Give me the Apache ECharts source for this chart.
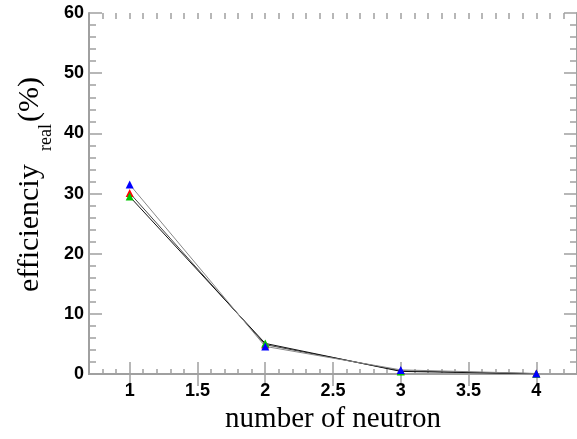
<!DOCTYPE html>
<html>
<head>
<meta charset="utf-8">
<script src="https://cdn.jsdelivr.net/npm/echarts@6/dist/echarts.min.js"></script>
<style>
  html, body { margin: 0; padding: 0; background: #fff; }
  #chart { width: 577px; height: 439px; }
</style>
</head>
<body>
<div id="chart"></div>
<script>
// data
var neutrons = [1, 2, 3, 4];
var redVals = [30.1, 4.9, 0.55, 0.08];
var greenVals = [29.5, 5.1, 0.45, 0.05];
var blueVals = [31.5, 4.6, 0.7, 0.1];
var xMajorTicks = [1, 1.5, 2, 2.5, 3, 3.5, 4];
var yMajorTicks = [0, 10, 20, 30, 40, 50, 60];

// minor ticks every 0.1 along x
var xMinorTicks = [];
for (var i = 7; i <= 43; i++) {
  xMinorTicks.push(Math.round(i) / 10);
}

function pairs(vals) {
  return neutrons.map(function (n, k) { return [n, vals[k]]; });
}

var axisGray = '#a0a0a0';
var chart = echarts.init(document.getElementById('chart'));

var gridBox = { left: 89, top: 13, right: 0, bottom: 64 };

var option = {
  animation: false,
  grid: [
    Object.assign({}, gridBox),
    Object.assign({}, gridBox)
  ],
  xAxis: [
    {
      gridIndex: 0, type: 'value', position: 'bottom', min: 0.7, max: 4.3,
      axisLine: { lineStyle: { color: axisGray, width: 2 } },
      axisTick: { inside: true, length: 12, customValues: xMajorTicks, lineStyle: { color: axisGray, width: 1.5 } },
      axisLabel: {
        customValues: xMajorTicks, margin: 8, color: '#000',
        fontFamily: 'Liberation Sans', fontWeight: 'bold', fontSize: 18
      },
      splitLine: { show: false },
      name: 'number of neutron', nameLocation: 'middle', nameGap: 26,
      nameTextStyle: { fontFamily: 'Liberation Serif', fontSize: 29, color: '#000' }
    },
    {
      gridIndex: 0, type: 'value', position: 'top', min: 0.7, max: 4.3,
      axisLine: { lineStyle: { color: axisGray, width: 2 } },
      axisTick: { inside: true, length: 12, customValues: xMajorTicks, lineStyle: { color: axisGray, width: 1.5 } },
      axisLabel: { show: false },
      splitLine: { show: false }
    },
    {
      gridIndex: 1, type: 'value', position: 'bottom', min: 0.7, max: 4.3,
      axisLine: { show: false },
      axisTick: { inside: true, length: 6, customValues: xMinorTicks, lineStyle: { color: axisGray, width: 1.5 } },
      axisLabel: { show: false },
      splitLine: { show: false }
    },
    {
      gridIndex: 1, type: 'value', position: 'top', min: 0.7, max: 4.3,
      axisLine: { show: false },
      axisTick: { inside: true, length: 6, customValues: xMinorTicks, lineStyle: { color: axisGray, width: 1.5 } },
      axisLabel: { show: false },
      splitLine: { show: false }
    }
  ],
  yAxis: [
    {
      gridIndex: 0, type: 'value', position: 'left', min: 0, max: 60, interval: 10,
      axisLine: { show: true, lineStyle: { color: axisGray, width: 2 } },
      axisTick: { show: true, inside: true, length: 13, lineStyle: { color: axisGray, width: 1.5 } },
      minorTick: { show: true, splitNumber: 5, length: 7, lineStyle: { color: axisGray, width: 1.5 } },
      axisLabel: {
        customValues: yMajorTicks, margin: 5, color: '#000',
        fontFamily: 'Liberation Sans', fontWeight: 'bold', fontSize: 18
      },
      splitLine: { show: false }
    },
    {
      gridIndex: 0, type: 'value', position: 'right', min: 0, max: 60, interval: 10,
      axisLine: { show: true, lineStyle: { color: axisGray, width: 2 } },
      axisTick: { show: true, inside: true, length: 13, lineStyle: { color: axisGray, width: 1.5 } },
      minorTick: { show: true, splitNumber: 5, length: 7, lineStyle: { color: axisGray, width: 1.5 } },
      axisLabel: { show: false },
      splitLine: { show: false }
    },
    { gridIndex: 1, type: 'value', min: 0, max: 60, show: false }
  ],
  graphic: [
    {
      type: 'text', x: 30, y: 292, rotation: Math.PI / 2,
      style: {
        text: 'efficienciy', fontFamily: 'Liberation Serif', fontSize: 30, fill: '#000',
        align: 'left', verticalAlign: 'middle'
      }
    },
    {
      type: 'text', x: 46, y: 151, rotation: Math.PI / 2,
      style: {
        text: 'real', fontFamily: 'Liberation Serif', fontSize: 18, fill: '#000',
        align: 'left', verticalAlign: 'middle'
      }
    },
    {
      type: 'text', x: 30, y: 122, rotation: Math.PI / 2,
      style: {
        text: '(%)', fontFamily: 'Liberation Serif', fontSize: 30, fill: '#000',
        align: 'left', verticalAlign: 'middle'
      }
    }
  ],
  series: [
    {
      name: 'red', type: 'line', xAxisIndex: 0, yAxisIndex: 0, data: pairs(redVals),
      symbol: 'triangle', symbolSize: 8, itemStyle: { color: '#ff0000' },
      lineStyle: { color: '#444', width: 1 }
    },
    {
      name: 'green', type: 'line', xAxisIndex: 0, yAxisIndex: 0, data: pairs(greenVals),
      symbol: 'triangle', symbolSize: 8, itemStyle: { color: '#00c800' },
      lineStyle: { color: '#111', width: 1 }
    },
    {
      name: 'blue', type: 'line', xAxisIndex: 0, yAxisIndex: 0, data: pairs(blueVals),
      symbol: 'triangle', symbolSize: 8, itemStyle: { color: '#0000ff' },
      lineStyle: { color: '#888', width: 1 }
    }
  ]
};

chart.setOption(option);
</script>
</body>
</html>
